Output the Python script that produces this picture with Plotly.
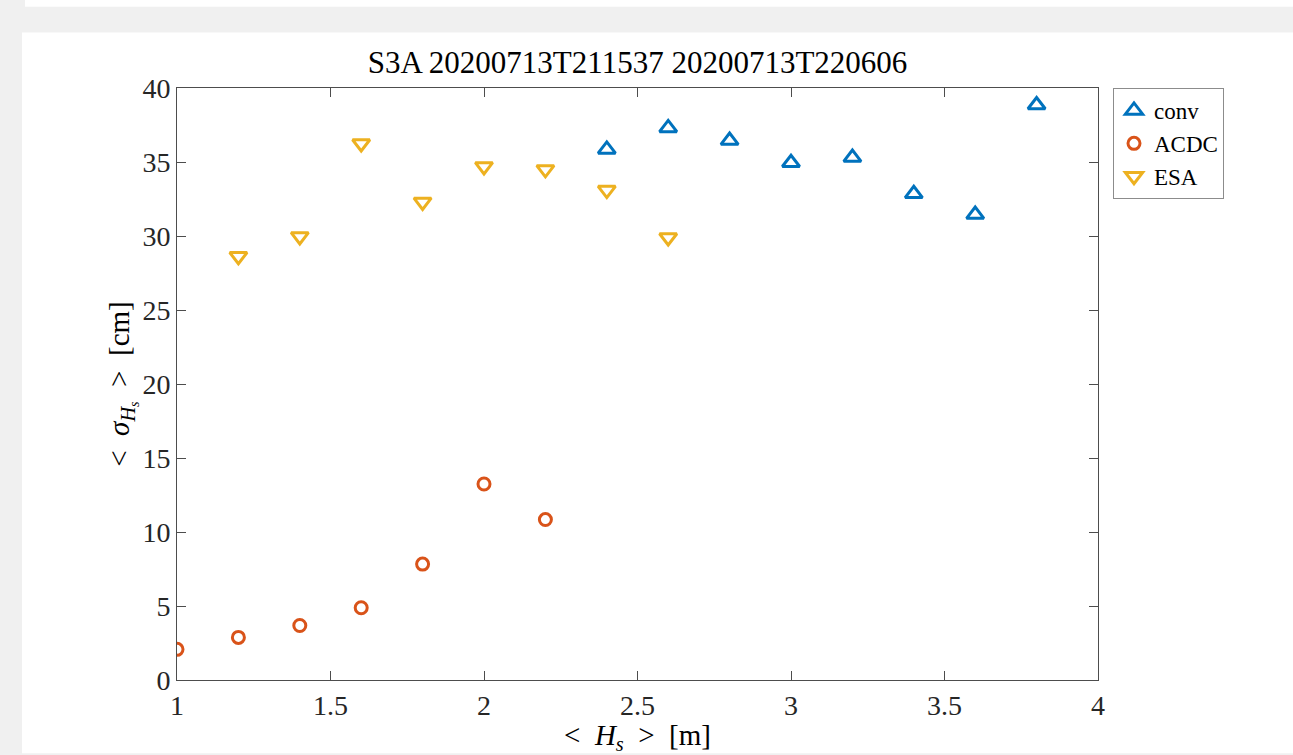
import plotly.graph_objects as go

conv_x = [2.4, 2.6, 2.8, 3.0, 3.2, 3.4, 3.6, 3.8]
conv_y = [35.85, 37.3, 36.45, 34.95, 35.3, 32.85, 31.45, 38.85]
acdc_x = [1.0, 1.2, 1.4, 1.6, 1.8, 2.0, 2.2]
acdc_y = [2.07, 2.88, 3.68, 4.88, 7.83, 13.24, 10.84]
esa_x = [1.2, 1.4, 1.6, 1.8, 2.0, 2.2, 2.4, 2.6]
esa_y = [28.63, 29.97, 36.25, 32.3, 34.7, 34.5, 33.1, 29.9]

x_ticks = [1, 1.5, 2, 2.5, 3, 3.5, 4]
x_ticklabels = ["1", "1.5", "2", "2.5", "3", "3.5", "4"]
y_ticks = [0, 5, 10, 15, 20, 25, 30, 35, 40]

FONT = "Liberation Serif"
W, H = 1293, 755
L, R, T, B = 177, 1098, 88, 686

fig = go.Figure()
fig.add_trace(go.Scatter(x=conv_x, y=conv_y, mode="markers", name="conv",
                         marker=dict(symbol="triangle-up-open", size=15, color="#0072BD",
                                     line=dict(width=3, color="#0072BD"))))
fig.add_trace(go.Scatter(x=acdc_x, y=acdc_y, mode="markers", name="ACDC",
                         marker=dict(symbol="circle-open", size=12, color="#D95319",
                                     line=dict(width=3, color="#D95319"))))
fig.add_trace(go.Scatter(x=esa_x, y=esa_y, mode="markers", name="ESA",
                         marker=dict(symbol="triangle-down-open", size=15, color="#EDB120",
                                     line=dict(width=3, color="#EDB120"))))

pw = R - L
ph = B - T
def px(xp):
    return (xp - L) / pw
def py(yp):
    return (B - yp) / ph

shapes = [
    dict(type="rect", xref="paper", yref="paper", x0=px(22), x1=px(1300), y0=py(760), y1=py(32),
         fillcolor="white", line=dict(width=0), layer="below"),
    dict(type="rect", xref="paper", yref="paper", x0=px(25), x1=px(1300), y0=py(6), y1=py(-5),
         fillcolor="white", line=dict(width=0), layer="below"),
]

axis_common = dict(showgrid=False, zeroline=False, showline=True, linecolor="#4d4d4d", linewidth=1,
                   mirror="ticks", ticks="inside", ticklen=9, tickcolor="#4d4d4d", tickwidth=1,
                   tickfont=dict(family=FONT, size=28, color="#262626"))

fig.update_layout(
    width=W, height=H,
    margin=dict(l=L, r=W - R, t=T, b=H - B),
    font=dict(family=FONT, color="#000"),
    paper_bgcolor="#f0f0f0", plot_bgcolor="white",
    shapes=shapes,
    showlegend=True,
    legend=dict(x=px(1113), y=1.0, xanchor="left", yanchor="top",
                bordercolor="#8c8c8c", borderwidth=1, bgcolor="white",
                font=dict(family=FONT, size=23, color="#000"),
                itemwidth=30, tracegroupgap=0, itemclick=False),
    title=dict(text="S3A 20200713T211537 20200713T220606", x=(L + R) / 2 / W, xanchor="center",
               y=1 - 62 / H, yanchor="middle", font=dict(family=FONT, size=31, color="#000")),
)
fig.update_xaxes(range=[1, 4], tickvals=x_ticks, ticktext=x_ticklabels,
                 title=dict(text="&lt;&nbsp;&nbsp;<i>H</i><sub><i>s</i></sub>&nbsp;&nbsp;&gt;&nbsp;&nbsp;[m]", standoff=2,
                            font=dict(family=FONT, size=29, color="#000")),
                 **axis_common)
fig.update_yaxes(range=[0, 40], tickvals=y_ticks,
                 title=dict(text="&lt;&nbsp;&nbsp;<i>σ</i><sub><i>H</i><sub><i>s</i></sub></sub>&nbsp;&nbsp;&gt;&nbsp;&nbsp;[cm]", standoff=2,
                            font=dict(family=FONT, size=29, color="#000")),
                 **axis_common)

fig.write_html("out.html", config={"displayModeBar": False},
               post_script="document.body.style.margin='0';document.body.style.padding='0';document.body.style.background='#f0f0f0';")
